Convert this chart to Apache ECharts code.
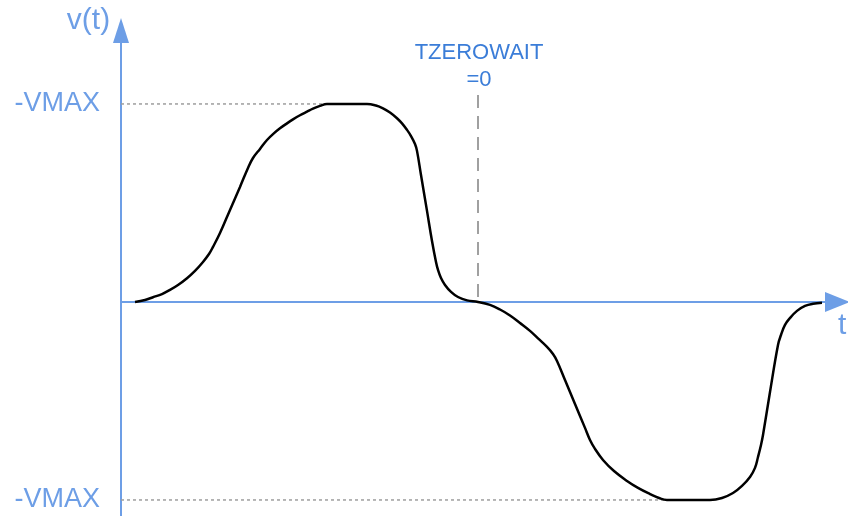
<!DOCTYPE html>
<html lang="en">
<head>
    <meta charset="UTF-8">
    <title>v(t)</title>
    <script src="https://cdn.jsdelivr.net/npm/echarts@6/dist/echarts.min.js"></script>
    <style>
        html, body { margin: 0; padding: 0; background: #fff; }
        #main { width: 848px; height: 516px; }
    </style>
</head>
<body>
    <div id="main"></div>
    <script>
        // curve: t (time units), v (in VMAX units)
        const curveT = [1.4, 2.4, 3.2, 4.1, 4.9, 5.7, 6.6, 7.4, 8.2, 8.8, 9.2, 9.9, 10.9, 11.9, 12.7, 13.2, 13.9,
            14.6, 15.2, 15.9, 16.6, 17.2, 17.9, 18.6, 19.2, 19.9, 20.6, 24.6, 25.5, 26.2, 26.9, 27.6, 28.1,
            28.6, 29.0, 29.4, 29.6, 30.0, 30.6, 31.1, 31.5, 31.7, 32.0, 32.4, 33.0, 33.7, 34.6, 35.7,
            36.9, 37.9, 38.9, 39.9, 40.9, 41.7, 42.6, 43.2, 43.6, 44.4, 45.4, 46.4, 46.9, 47.4, 48.2,
            49.3, 50.6, 51.7, 52.9, 53.8, 54.6, 58.9, 60.1, 61.2, 62.1, 62.9, 63.4, 63.7, 64.0, 64.2,
            64.9, 65.7, 66.0, 66.4, 66.9, 67.6, 68.4, 69.2, 70.1];
        const curveV = [0, 0.010, 0.024, 0.040, 0.061, 0.086, 0.120, 0.157, 0.202, 0.242, 0.278, 0.348, 0.465, 0.581, 0.677, 0.727, 0.773,
            0.818, 0.848, 0.877, 0.902, 0.922, 0.943, 0.961, 0.976, 0.990, 1, 1, 0.992, 0.978, 0.957, 0.928, 0.902,
            0.869, 0.838, 0.798, 0.763, 0.641, 0.460, 0.308, 0.202, 0.162, 0.121, 0.086, 0.051, 0.025, 0.008, 0,
            -0.015, -0.038, -0.068, -0.106, -0.146, -0.184, -0.227, -0.263, -0.298, -0.394, -0.515, -0.636, -0.697, -0.742, -0.798,
            -0.854, -0.904, -0.939, -0.970, -0.990, -1, -1, -0.990, -0.965, -0.929, -0.884, -0.838, -0.783, -0.722, -0.672,
            -0.455, -0.217, -0.167, -0.116, -0.081, -0.045, -0.020, -0.009, -0.004];

        const vmax = 1;
        const peakStartT = 20.6;     // where the top plateau starts
        const troughStartT = 54.6;   // where the bottom plateau starts
        const tZeroWait = 35.7;      // zero crossing marked TZEROWAIT
        const waitMarkTop = 1.045;
        const yLabelValues = [-1, 1];

        const blue = '#6d9ee6';
        const darkBlue = '#3b7dd8';
        const font = "'Liberation Sans', Arial, sans-serif";

        let myChart = echarts.init(document.getElementById('main'));

        let option = {
            animation: false,
            grid: {
                left: 121,
                right: 10.5,
                top: 30.5,
                bottom: 0
            },
            xAxis: {
                type: 'value',
                min: 0,
                max: 71.65,
                axisLine: {
                    onZero: true,
                    symbol: ['none', 'triangle'],
                    symbolSize: [20, 25],
                    lineStyle: { color: blue, width: 2 }
                },
                axisTick: { show: false },
                axisLabel: { show: false },
                splitLine: { show: false }
            },
            yAxis: {
                type: 'value',
                min: -1.081,
                max: 1.371,
                axisLine: {
                    show: true,
                    symbol: ['none', 'triangle'],
                    symbolSize: [16, 25],
                    lineStyle: { color: blue, width: 2 }
                },
                axisTick: { show: false },
                splitLine: { show: false },
                axisLabel: {
                    customValues: yLabelValues,
                    formatter: function () { return '-VMAX'; },
                    color: blue,
                    fontSize: 27,
                    fontFamily: font,
                    margin: 21
                }
            },
            graphic: [
                { type: 'text', x: 88.5, y: 21, style: { text: 'v(t)', fill: blue, font: '30px ' + font, align: 'center', verticalAlign: 'middle' } },
                { type: 'text', x: 838, y: 326, style: { text: 't', fill: blue, font: '30px ' + font, align: 'left', verticalAlign: 'middle' } },
                { type: 'text', x: 479, y: 53, style: { text: 'TZEROWAIT', fill: darkBlue, font: '22px ' + font, align: 'center', verticalAlign: 'middle' } },
                { type: 'text', x: 479, y: 80, style: { text: '=0', fill: darkBlue, font: '22px ' + font, align: 'center', verticalAlign: 'middle' } }
            ],
            series: [
                {
                    // dotted guide to the top plateau
                    type: 'line',
                    data: [[0, vmax], [peakStartT, vmax]],
                    symbol: 'none',
                    lineStyle: { color: '#9e9e9e', width: 1.5, type: [3, 3] }
                },
                {
                    // dotted guide to the bottom plateau
                    type: 'line',
                    data: [[0, -vmax], [troughStartT, -vmax]],
                    symbol: 'none',
                    lineStyle: { color: '#9e9e9e', width: 1.5, type: [3, 3] }
                },
                {
                    // TZEROWAIT marker
                    type: 'line',
                    data: [[tZeroWait, waitMarkTop], [tZeroWait, 0]],
                    symbol: 'none',
                    lineStyle: { color: '#a0a0a0', width: 2, type: [13, 8] }
                },
                {
                    type: 'line',
                    data: curveT.map((t, i) => [t, curveV[i]]),
                    symbol: 'none',
                    smooth: 0.4,
                    lineStyle: { color: '#000', width: 2.5 },
                    z: 5
                }
            ]
        };
        myChart.setOption(option);
    </script>
</body>
</html>
